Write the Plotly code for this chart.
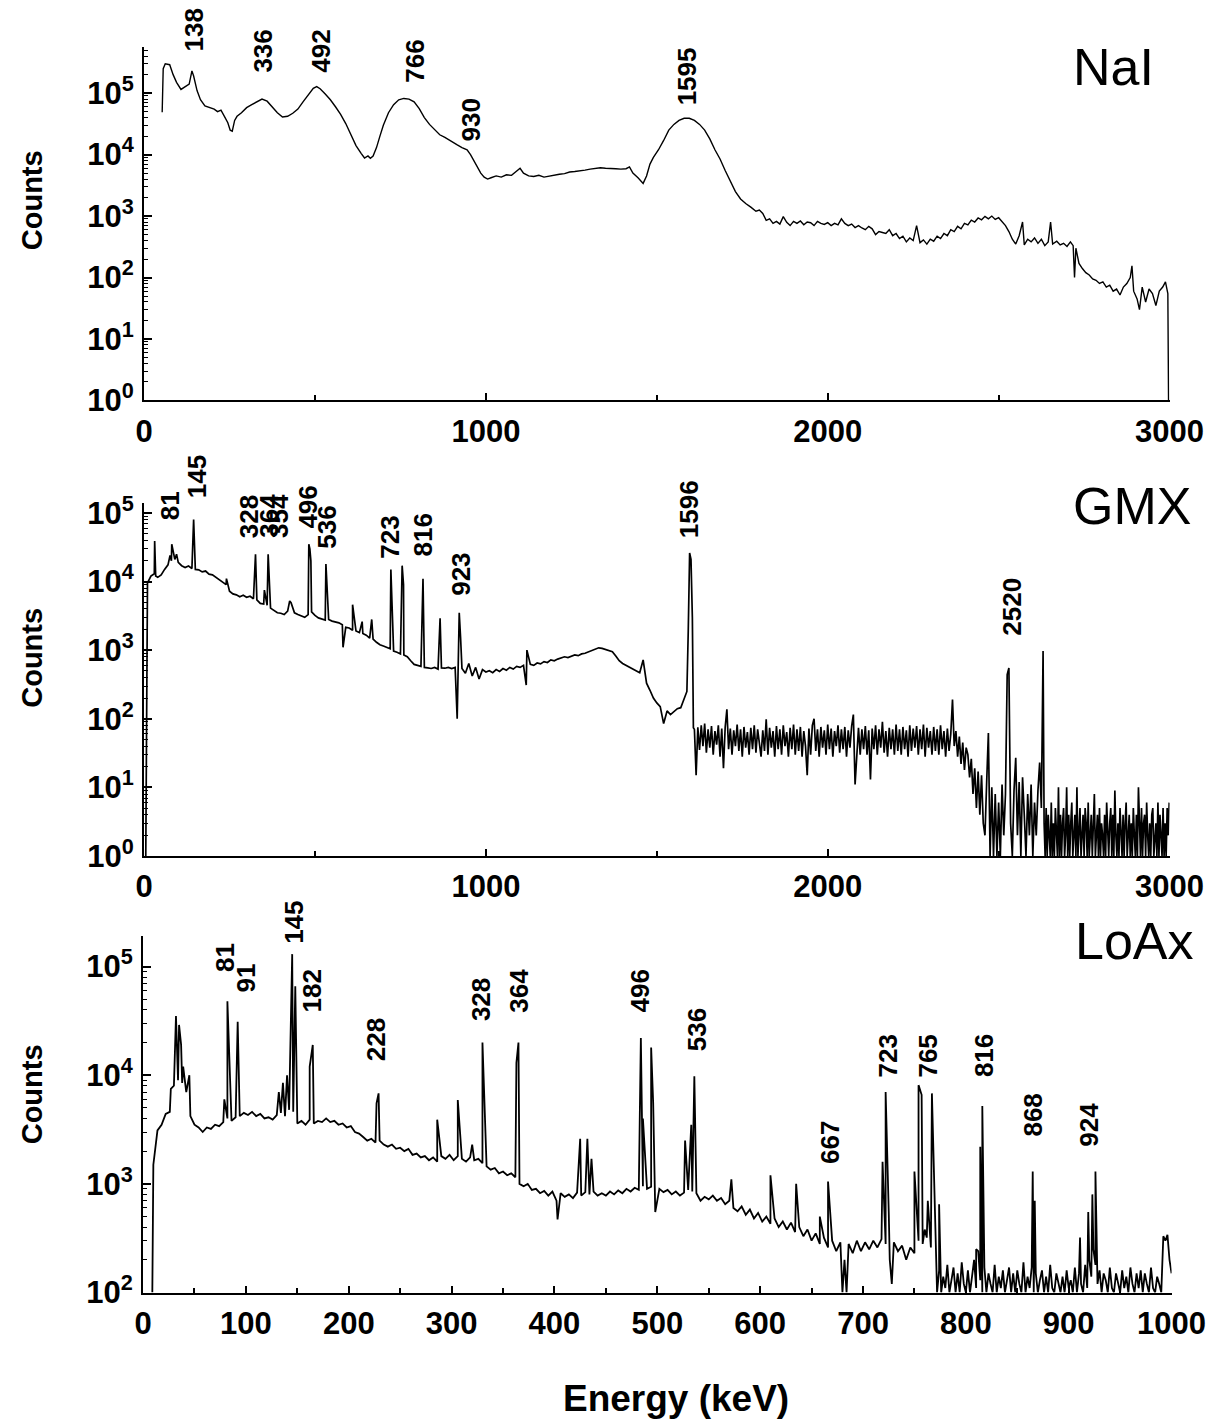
import plotly.graph_objects as go

# figure size and screen-to-figure mapping (measured from earlier captures)
W, H = 1245, 1440
SX, OX = 0.965, 8.0
SY, OY = 0.978, 12.0

# ---------------------------------------------------------------- NaI spectrum
nai_energy = [53, 56, 62, 75, 85, 95, 108, 120, 132, 140, 145, 155, 165, 178, 190, 205, 215, 225, 235, 245,
              252, 258, 265, 272, 285, 300, 315, 330, 345, 360, 375, 390, 405, 420, 435, 450, 465, 480, 495, 505,
              515, 530, 545, 560, 575, 590, 605, 620, 635, 645, 655, 662, 670, 680, 690, 700, 715, 730, 745, 760,
              775, 790, 805, 820, 835, 850, 865, 880, 890, 900, 915, 930, 945, 955, 965, 975, 985, 995, 1005, 1015,
              1030, 1045, 1060, 1075, 1090, 1100, 1110, 1125, 1140, 1155, 1170, 1185, 1200, 1215, 1230, 1245, 1260,
              1275, 1290, 1305, 1320, 1335, 1350, 1365, 1380, 1395, 1410, 1420, 1430, 1445, 1460, 1470, 1480, 1490,
              1505, 1520, 1535, 1550, 1565, 1580, 1595, 1610, 1625, 1640, 1655, 1670, 1685, 1700, 1715, 1730, 1745,
              1760, 1775, 1790, 1800, 1810,
              2520, 2530, 2540, 2550, 2560, 2570, 2575, 2585, 2595, 2605, 2615, 2625, 2635, 2645, 2652, 2658, 2670,
              2680, 2690, 2700, 2710, 2718, 2722, 2726, 2735, 2745, 2755, 2765, 2775, 2785, 2795, 2805, 2815, 2825,
              2835, 2845, 2855, 2865, 2875, 2885, 2890, 2895, 2905, 2912, 2920, 2930, 2940, 2950, 2960, 2970, 2980,
              2988, 2995, 2997]
nai_counts = [49000, 250000, 300000, 290000, 200000, 150000, 115000, 125000, 140000, 230000, 190000, 110000,
              78000, 62000, 58000, 55000, 50000, 53000, 42000, 33000, 25000, 24000, 36000, 42000, 48000, 58000,
              65000, 72000, 80000, 74000, 60000, 48000, 41000, 42000, 47000, 55000, 72000, 95000, 120000, 128000,
              118000, 97000, 78000, 60000, 45000, 32000, 21000, 14000, 10500, 8800, 9500, 8700, 9500, 13000, 20000,
              30000, 48000, 65000, 78000, 82000, 80000, 72000, 56000, 40000, 31000, 25000, 21000, 19000, 17500,
              16000, 14500, 13000, 12000, 10000, 8000, 6200, 5000, 4300, 4000, 4200, 4500, 4300, 4700, 4600, 5400,
              6000, 5000, 4500, 4400, 4600, 4300, 4500, 4700, 4800, 4900, 5200, 5300, 5400, 5600, 5800, 6000, 6100,
              6000, 6000, 5900, 5800, 5900, 6300, 5000, 4200, 3400, 4500, 7000, 9000, 12000, 17000, 25000, 31000,
              36000, 39000, 39000, 36000, 31000, 25000, 18000, 12000, 8500, 5500, 3800, 2500, 1900, 1600, 1400,
              1200, 1250, 1100,
              700, 560, 420, 350, 480, 800, 340, 420, 380, 440, 360, 420, 330, 380, 800, 350, 390, 340, 360, 320,
              380, 330, 100, 300, 170, 140, 120, 110, 95, 90, 80, 85, 70, 75, 60, 65, 52, 70, 80, 100, 155, 60, 45,
              30, 70, 40, 65, 55, 35, 60, 70, 85, 55, 1]
nai_grid_start, nai_grid_step = 1820, 10
nai_grid_counts = [850, 900, 760, 820, 740, 980, 790, 700, 820, 760,
                   830, 720, 800, 780, 700, 820, 760, 730, 780, 700,
                   760, 720, 900, 760, 700, 740, 650, 700, 640, 600,
                   680, 620, 500, 560, 540, 520, 600, 480, 520, 430,
                   470, 380, 440, 400, 700, 370, 410, 350, 420, 390,
                   470, 430, 520, 480, 600, 560, 680, 620, 760, 720,
                   860, 800, 930, 870, 990, 900, 1000, 880, 940, 820]

# ---------------------------------------------------------------- GMX spectrum
gmx_base_start, gmx_base_step = 10, 10
gmx_base_counts = [9500, 12000, 13000, 11500, 12500, 15000, 17500, 20000, 21000, 19000,
                   17000, 16000, 16800, 15500, 15000, 14800, 13800, 14200, 12800, 12500,
                   11500, 10500, 9500, 9000, 7200, 6600, 6400, 6000, 6300, 5900,
                   6100, 5600, 5400, 4800, 4700, 4500, 4100, 3800, 3500, 3450,
                   3300, 3700, 4900, 3500, 3300, 3150, 3000, 3300, 3600, 3200,
                   2950, 2850, 2750, 2800, 2650, 2600, 2500, 2350, 2150, 2100,
                   1950, 1900, 1800, 1750, 1650, 1500, 1450, 1300, 1200, 1150,
                   1100, 1050, 970, 930, 880, 850, 800, 700, 620, 600,
                   580, 560, 550, 540, 560, 530, 550, 545, 560, 540,
                   560, 600, 540, 460, 640, 420, 560, 380, 520, 480,
                   500, 470, 520, 490, 540, 510, 560, 530, 580, 560,
                   600, 580, 620, 600, 650, 630, 680, 660, 720, 700,
                   740, 760, 800, 780, 820, 850, 830, 880, 900, 940,
                   1000, 1050, 1080, 1060, 1020, 1000, 950, 820, 700, 640,
                   600, 560, 520, 490, 470, 720, 330, 260, 200, 170,
                   150, 85, 130, 115, 125, 140, 145, 200]
gmx_line_energy = [5, 8, 31, 34, 76, 81, 85, 88, 95, 145, 147, 241, 322, 326, 352, 363, 426, 482, 485, 488,
                   532, 582, 610, 638, 666, 722, 755, 759, 816, 866, 916, 922, 926, 1118, 1120,
                   1588, 1592, 1596, 1600, 1604, 1607]
gmx_line_counts = [1, 9000, 39000, 12000, 24000, 35000, 28000, 22000, 25000, 80000, 25000, 11000, 9000, 25000,
                   7500, 25000, 5200, 35000, 30000, 20000, 18000, 1100, 4600, 2600, 2800, 15000, 17000, 9000,
                   11000, 2900, 100, 3500, 1500, 310, 1000,
                   250, 1900, 26000, 21000, 3000, 74]
gmx_band_start, gmx_band_step = 1610, 5
gmx_band_counts = [70, 15, 75, 35, 80, 40, 85, 32, 70, 38, 78, 30, 66, 42, 80, 28, 72, 19, 75, 137,
                   36, 72, 30, 68, 40, 82, 34, 70, 28, 76, 38, 64, 30, 74, 36, 80, 32, 70, 42, 28,
                   68, 34, 98, 30, 74, 38, 66, 28, 78, 36, 70, 30, 80, 40, 64, 28, 74, 36, 82, 30,
                   70, 34, 76, 28, 66, 40, 15, 72, 30, 80, 100, 34, 70, 28, 76, 38, 68, 30, 82, 36,
                   72, 28, 66, 40, 80, 32, 70, 36, 76, 28, 68, 38, 78, 115, 11, 34, 74, 30, 70, 36,
                   78, 30, 68, 13, 72, 36, 80, 30, 70, 38, 90, 32, 66, 28, 74, 36, 70, 30, 82, 34,
                   70, 30, 76, 36, 68, 28, 80, 34, 72, 38, 78, 30, 70, 36, 82, 28, 74, 38, 66, 30,
                   76, 34, 70, 30, 80, 36, 66, 28, 72, 34, 60, 190, 40, 66, 28, 55, 22, 45, 18, 38,
                   30, 14, 26, 8, 19, 5, 17, 4, 15, 3, 2, 12, 62, 1, 10, 1, 8, 1, 6, 1,
                   11, 2, 8, 440, 550, 3, 1, 9, 27, 2, 12, 1, 14, 4, 1, 8, 2, 11, 1, 6,
                   2, 9, 23, 5]
gmx_tail_start, gmx_tail_step = 2630, 3
gmx_tail_counts = [970, 3, 1, 5, 1, 4, 2, 1, 6, 1, 3, 1, 5, 2, 1, 10, 1, 4, 1, 3,
                   5, 1, 2, 10, 1, 4, 1, 3, 6, 1, 2, 4, 1, 10, 1, 3, 5, 1, 2, 4,
                   1, 5, 3, 1, 6, 1, 2, 4, 1, 3, 8, 1, 2, 4, 1, 5, 1, 3, 2, 1,
                   4, 1, 6, 2, 1, 3, 5, 1, 4, 1, 9, 2, 1, 3, 1, 5, 2, 1, 4, 1,
                   3, 6, 1, 2, 4, 1, 3, 1, 5, 2, 1, 4, 1, 10, 2, 1, 5, 1, 3, 4,
                   1, 6, 2, 1, 3, 1, 4, 5, 1, 2, 3, 1, 6, 1, 4, 2, 1, 5, 1, 3,
                   1, 5, 2, 6]

# ---------------------------------------------------------------- LoAx spectrum
loax_base_start, loax_base_step = 10, 4
loax_base_counts = [1500, 3100, 3500, 4400, 4600, 8000, 9000, 8500, 7000, 4200,
                    3500, 3300, 3000, 3300, 3200, 3500, 3400, 3700, 4000, 3800,
                    4100, 4200, 4500, 4300, 4600, 4200, 4400, 4000, 4100, 3900,
                    4300, 4500, 4200, 4800, 4600, 3600, 3800, 3500, 3900, 3600,
                    3800, 3700, 4000, 3700, 3800, 3500, 3600, 3300, 3400, 3000,
                    2900, 2700, 2500, 2600, 2400, 2500, 2300, 2200, 2300, 2100,
                    2150, 2000, 2100, 1850, 1900, 1750, 1800, 1650, 1750, 1600,
                    1800, 1700, 1850, 1650, 1800, 1700, 1600, 1750, 1650, 1700,
                    1550, 1450, 1350, 1400, 1250, 1300, 1200, 1250, 1150, 1000,
                    950, 1000, 880, 900, 820, 860, 780, 850, 700, 820,
                    760, 800, 740, 830, 780, 840, 800, 850, 780, 820,
                    780, 850, 800, 870, 820, 900, 850, 920, 880, 950,
                    900, 940, 860, 900, 840, 880, 800, 850, 780, 830,
                    880, 850, 820, 700, 760, 720, 780, 700, 740, 650,
                    700, 600, 560, 620, 520, 580, 480, 540, 450, 500,
                    430, 480, 400, 450, 380, 440, 360, 400, 330, 380,
                    300, 350, 280, 320, 260, 300, 240, 290, 200, 280,
                    230, 300, 240, 290, 250, 300, 260, 310, 280, 200,
                    290, 240, 270, 200, 260, 230, 300, 280, 320, 260]
loax_tail_start, loax_tail_step = 772, 2
loax_tail_counts = [100, 160, 100, 140, 110, 180, 100, 130, 170, 100, 150, 100, 190, 120, 100, 160, 100, 140, 200, 110,
                    240, 130, 100, 170, 100, 150, 120, 100, 180, 100, 140, 110, 160, 100, 130, 170, 100, 150, 100, 160,
                    120, 100, 190, 100, 140, 110, 170, 100, 150, 100, 130, 160, 100, 140, 100, 180, 110, 100, 150, 120,
                    100, 140, 100, 160, 110, 130, 100, 170, 100, 150, 120, 100, 180, 110, 200, 140, 250, 180, 120, 160,
                    100, 150, 130, 100, 170, 110, 100, 150, 120, 100, 160, 110, 140, 100, 170, 120, 100, 150, 110, 160,
                    100, 150, 120, 100, 170, 110, 100, 140, 120, 100, 330, 300, 340, 200, 150]
loax_line_energy = [9, 27, 32, 35, 37, 39, 45, 79, 82, 92, 132, 136, 140, 145, 148, 162, 165, 227, 229, 286,
                    306, 320, 330, 363, 365, 403, 425, 432, 436, 484, 486, 494, 496, 498, 527, 533, 536, 572,
                    610, 635, 658, 666, 680, 684, 719, 722, 725, 728, 750, 754, 757, 760, 763, 767, 769,
                    774, 810, 814, 816, 865, 867, 911, 919, 923, 926]
loax_line_counts = [100, 7500, 35000, 29000, 19000, 12000, 10000, 6000, 48000, 31000, 7000, 8500, 10000, 130000,
                    66000, 12000, 19000, 5500, 6800, 3900, 5900, 2300, 20000, 13000, 20000, 470, 2600, 2600, 1700,
                    22000, 4000, 18000, 5500, 550, 2500, 3500, 9800, 1100, 1200, 1000, 500, 1050, 100, 100, 1600,
                    7000, 560, 120, 1300, 8100, 6600, 380, 700, 6800, 1300, 650, 250, 2200, 5200, 1300, 700,
                    320, 550, 800, 1300]

# ---------------------------------------------------------------- peak labels
nai_labels = ["138", "336", "492", "766", "930", "1595"]
nai_label_energy = [146, 348, 515, 790, 956, 1589]
gmx_labels = ["81", "145", "328", "364", "354", "496", "536", "723", "816", "923", "1596", "2520"]
gmx_label_energy = [76, 155, 307, 363, 393, 481, 537, 721, 817, 929, 1593, 2539]
loax_labels = ["81", "91", "145", "182", "228", "328", "364", "496", "536", "667", "723", "765", "816",
               "868", "924"]
loax_label_energy = [79, 100, 146, 164, 226, 328, 366, 483, 538, 668, 724, 763, 817, 865, 920]

# label bottoms (screen pixels from top) -- layout only
nai_label_bottom = [53, 75, 75, 85, 143, 107]
gmx_label_bottom = [522, 500, 540, 539, 539, 530, 550, 560, 558, 597, 540, 637]
loax_label_bottom = [973, 993, 945, 1013, 1062, 1022, 1013, 1013, 1052, 1165, 1078, 1078, 1078, 1137, 1147]


def grid(start, step, counts):
    return [start + i * step for i in range(len(counts))], list(counts)


def merged(parts, extra_e, extra_c):
    pts = []
    for xs, ys in parts:
        pts += list(zip(xs, ys))
    pts += list(zip(extra_e, extra_c))
    pts.sort(key=lambda p: p[0])
    return [p[0] for p in pts], [p[1] for p in pts]


nai_x, nai_y = merged([grid(nai_grid_start, nai_grid_step, nai_grid_counts)], nai_energy, nai_counts)
gmx_x, gmx_y = merged([grid(gmx_base_start, gmx_base_step, gmx_base_counts),
                       grid(gmx_band_start, gmx_band_step, gmx_band_counts),
                       grid(gmx_tail_start, gmx_tail_step, gmx_tail_counts)],
                      gmx_line_energy, gmx_line_counts)
loax_x, loax_y = merged([grid(loax_base_start, loax_base_step, loax_base_counts),
                         grid(loax_tail_start, loax_tail_step, loax_tail_counts)],
                        loax_line_energy, loax_line_counts)

FONT = "Liberation Sans, Arial, Helvetica, sans-serif"

fig = go.Figure()
fig.add_trace(go.Scatter(x=nai_x, y=nai_y, mode="lines", line=dict(color="black", width=1.4),
                         xaxis="x", yaxis="y", showlegend=False))
fig.add_trace(go.Scatter(x=gmx_x, y=gmx_y, mode="lines", line=dict(color="black", width=1.7),
                         xaxis="x2", yaxis="y2", showlegend=False))
fig.add_trace(go.Scatter(x=loax_x, y=loax_y, mode="lines", line=dict(color="black", width=1.8),
                         xaxis="x3", yaxis="y3", showlegend=False))


def px(p):
    return ((p - OX) / SX) / W


def py(p):
    return 1 - ((p - OY) / SY) / H


tickfont = dict(family=FONT, size=31, color="black", weight="bold")
minor_log = [m * 10 ** k for k in range(-1, 6) for m in range(2, 10)]


def xaxis_cfg(dom, rng, tv, minor_dt, anchor):
    return dict(domain=dom, range=rng, anchor=anchor, tickvals=tv, ticktext=[str(v) for v in tv],
                ticks="inside", ticklen=7, tickwidth=2, tickcolor="black",
                minor=dict(ticks="inside", ticklen=5, tickwidth=1.5, tickcolor="black", dtick=minor_dt, tick0=0),
                showline=True, linewidth=2, linecolor="black", showgrid=False, zeroline=False,
                tickfont=tickfont, ticklabelstandoff=2)


def yaxis_cfg(dom, rng, kmin, kmax, anchor):
    tv = [10 ** k for k in range(kmin, kmax + 1)]
    tt = ["10<sup>%d</sup>" % k for k in range(kmin, kmax + 1)]
    return dict(domain=dom, type="log", range=rng, anchor=anchor, tickvals=tv, ticktext=tt,
                ticks="inside", ticklen=8, tickwidth=2, tickcolor="black",
                minor=dict(ticks="inside", ticklen=4, tickwidth=1, tickcolor="black", tickvals=minor_log),
                showline=True, linewidth=2, linecolor="black", showgrid=False, zeroline=False,
                tickfont=tickfont, ticklabelstandoff=2)


x12 = [px(143), px(1168)]
fig.update_layout(
    width=W, height=H, margin=dict(l=0, r=0, t=0, b=0),
    paper_bgcolor="white", plot_bgcolor="white", showlegend=False,
    xaxis=xaxis_cfg(x12, [0, 3000], [0, 1000, 2000, 3000], 500, "y"),
    yaxis=yaxis_cfg([py(400), py(47)], [0, 5.75], 0, 5, "x"),
    xaxis2=xaxis_cfg(x12, [0, 3000], [0, 1000, 2000, 3000], 500, "y2"),
    yaxis2=yaxis_cfg([py(855), py(502)], [0, 5.15], 0, 5, "x2"),
    xaxis3=xaxis_cfg([px(142), px(1170)], [0, 1000], list(range(0, 1001, 100)), 50, "y3"),
    yaxis3=yaxis_cfg([py(1291), py(935)], [2, 5.28], 2, 5, "x3"),
)

ann = []
lab_font = dict(family=FONT, size=26, color="black", weight="bold")
for labs, energies, bottoms, xr in [(nai_labels, nai_label_energy, nai_label_bottom, "x"),
                                    (gmx_labels, gmx_label_energy, gmx_label_bottom, "x2"),
                                    (loax_labels, loax_label_energy, loax_label_bottom, "x3")]:
    for t, e, b in zip(labs, energies, bottoms):
        ann.append(dict(text=t, x=e, xref=xr, y=py(b), yref="paper", textangle=-90,
                        xanchor="center", yanchor="bottom", showarrow=False, font=lab_font))

for name, cx, cy in [("NaI", 1112, 67), ("GMX", 1130, 505), ("LoAx", 1133, 940)]:
    ann.append(dict(text=name, x=px(cx), y=py(cy), xref="paper", yref="paper", xanchor="center",
                    yanchor="middle", showarrow=False,
                    font=dict(family=FONT, size=52, color="black")))

for cy in [200, 657, 1093]:
    ann.append(dict(text="Counts", x=px(31), y=py(cy), xref="paper", yref="paper", textangle=-90,
                    xanchor="center", yanchor="middle", showarrow=False,
                    font=dict(family=FONT, size=29, color="black", weight="bold")))

ann.append(dict(text="Energy (keV)", x=px(675), y=py(1397), xref="paper", yref="paper",
                xanchor="center", yanchor="middle", showarrow=False,
                font=dict(family=FONT, size=37, color="black", weight="bold")))

fig.update_layout(annotations=ann)
fig.write_html("out.html")
